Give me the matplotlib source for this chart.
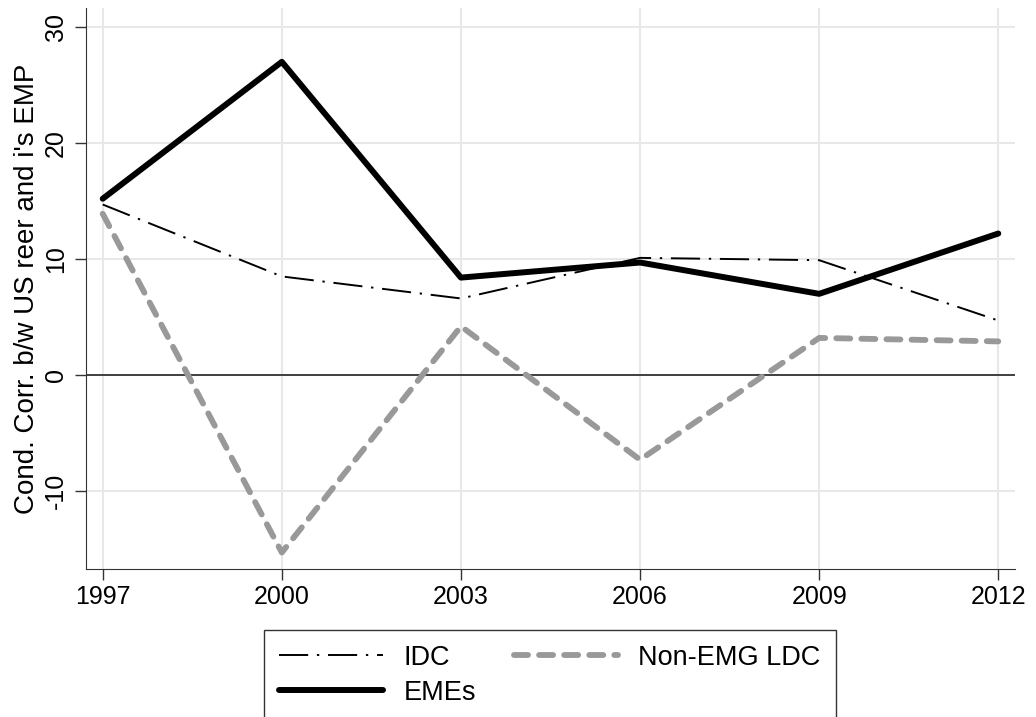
import matplotlib
matplotlib.use("Agg")
from matplotlib import pyplot as plt

plt.rcParams['font.family'] = ['Liberation Sans', 'DejaVu Sans']
plt.rcParams['axes.unicode_minus'] = False

years = [1997, 2000, 2003, 2006, 2009, 2012]
idc = [14.7, 8.5, 6.6, 10.1, 9.9, 4.7]
emes = [15.2, 27.0, 8.4, 9.7, 7.0, 12.2]
non_emg = [13.9, -15.3, 4.2, -7.3, 3.2, 2.9]
yticks = [-10, 0, 10, 20, 30]

fig = plt.figure(figsize=(10.36, 7.17), dpi=100)
ax = fig.add_axes([86/1036, 1 - 569/717, (1015 - 86)/1036, (569 - 8)/717])

# grid
for y in yticks:
    ax.axhline(y, color='#e8e8e8', lw=1.5, zorder=0)
for x in years:
    ax.axvline(x, color='#e8e8e8', lw=1.5, zorder=0)
ax.axhline(0, color='#333333', lw=1.3, zorder=1)

l_idc, = ax.plot(years, idc, color='black', lw=1.4, dashes=(15, 4.5, 1.2, 4.5), label='IDC', zorder=3)
l_eme, = ax.plot(years, emes, color='black', lw=4.3, solid_capstyle='round',
                 solid_joinstyle='round', label='EMEs', zorder=4)
l_non, = ax.plot(years, non_emg, color='#999999', lw=4.2, dashes=(2.4, 1.9),
                 dash_capstyle='round', label='Non-EMG LDC', zorder=2)

ax.set_xlim(1996.72, 2012.28)
ax.set_ylim(-16.72, 31.64)
ax.set_xticks(years)
ax.set_yticks(yticks)
ax.tick_params(labelsize=18, length=8, width=1, color='#333333')
ax.tick_params(axis='y', labelrotation=90, pad=5)
for lab in ax.get_yticklabels():
    lab.set_va('center')
ax.spines['top'].set_visible(False)
ax.spines['right'].set_visible(False)
ax.spines['left'].set_color('#333333')
ax.spines['bottom'].set_color('#333333')
ax.set_ylabel("Cond. Corr. b/w US reer and i's EMP", fontsize=20, labelpad=3)

leg = fig.legend([l_idc, l_eme, l_non], ['IDC', 'EMEs', 'Non-EMG LDC'],
                 ncol=2, loc='upper left', bbox_to_anchor=(264/1036, 1 - 630/717),
                 fontsize=19.5, frameon=True, fancybox=False, edgecolor='black',
                 handlelength=3.85, handletextpad=0.75, columnspacing=1.4,
                 borderpad=0.55, labelspacing=0.33, borderaxespad=0)
leg.get_frame().set_linewidth(1.0)

fig.savefig('out.png', dpi=100)
